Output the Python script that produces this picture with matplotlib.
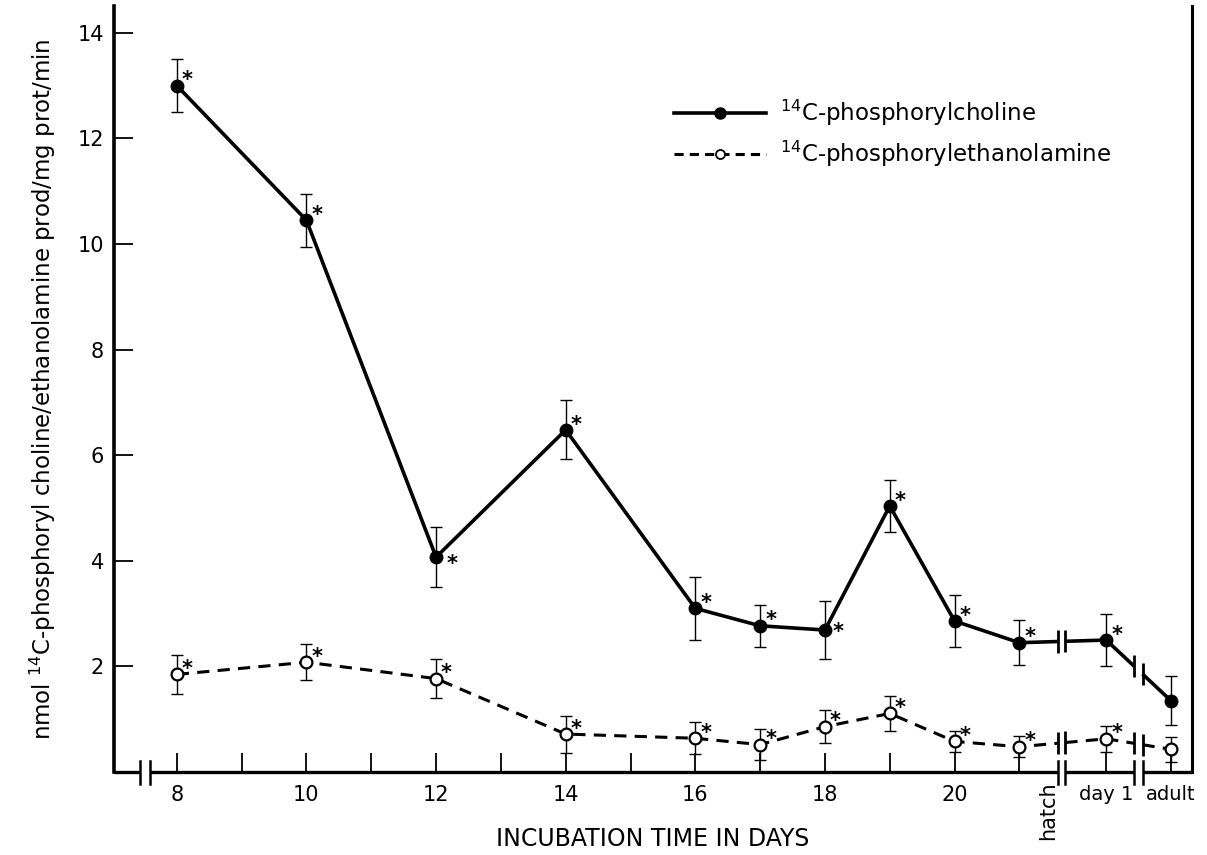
import numpy as np
import matplotlib
matplotlib.use("Agg")
import matplotlib.pyplot as plt
from matplotlib.lines import Line2D

# values (nmol / mg prot / min)
days = [8, 10, 12, 14, 16, 17, 18, 19, 20, 21]
later_labels = ["day 1", "adult"]

choline = [13.0, 10.45, 4.07, 6.48, 3.1, 2.77, 2.69, 5.04, 2.86, 2.45, 2.5, 1.35]
choline_err = [0.5, 0.5, 0.57, 0.56, 0.6, 0.4, 0.55, 0.5, 0.5, 0.43, 0.5, 0.46]

ethanol = [1.85, 2.08, 1.77, 0.72, 0.64, 0.52, 0.86, 1.11, 0.58, 0.48, 0.63, 0.43]
ethanol_err = [0.37, 0.34, 0.37, 0.35, 0.3, 0.3, 0.31, 0.33, 0.2, 0.2, 0.25, 0.24]

ylabel = r"nmol $^{14}$C-phosphoryl choline/ethanolamine prod/mg prot/min"
xlabel = "INCUBATION TIME IN DAYS"

# layout on the broken time axis
day1_pos, adult_pos = 22.34, 23.34
axis_gap = (7.43, 7.58)
gaps = [(21.59, 21.71), (22.77, 22.90)]

narrow = ["Liberation Sans Narrow", "DejaVu Sans"]

x = np.array(days + [day1_pos, adult_pos], float)


def with_gaps(xv, yv, gaps):
    xv = np.asarray(xv, float)
    yv = np.asarray(yv, float)
    cuts = [g for pair in gaps for g in pair]
    xx = np.sort(np.r_[xv, cuts])
    yy = np.interp(xx, xv, yv)
    for a, b in gaps[::-1]:
        i = int(np.where(xx == b)[0][0])
        xx = np.insert(xx, i, np.nan)
        yy = np.insert(yy, i, np.nan)
    return xx, yy


def break_marks(ax, xv, yv, gaps, h=0.21, lw=2.0):
    for a, b in gaps:
        for g in (a, b):
            yg = np.interp(g, xv, yv)
            ax.plot([g, g], [yg - h, yg + h], color="black", lw=lw,
                    solid_capstyle="butt", zorder=4)


fig = plt.figure(figsize=(12.07, 8.55), dpi=100)
ax = fig.add_axes([0.0944, 0.097, 0.893, 0.8955])
ax.set_xlim(7.03, 23.66)
ax.set_ylim(0, 14.5)

# choline: solid line, filled markers
cx, cy = with_gaps(x, choline, gaps)
ax.plot(cx, cy, color="black", lw=2.6, solid_capstyle="butt", zorder=3)
ax.errorbar(x, choline, yerr=choline_err, fmt="none", ecolor="black",
            elinewidth=1.0, capsize=4.3, capthick=1.0, zorder=2)
ax.plot(x, choline, "o", color="black", ms=9, zorder=5)
break_marks(ax, x, choline, gaps)

# ethanolamine: dashed line, open markers
ex, ey = with_gaps(x, ethanol, gaps)
ax.plot(ex, ey, color="black", lw=2.2, dashes=(4, 2.7), zorder=3)
ax.errorbar(x, ethanol, yerr=ethanol_err, fmt="none", ecolor="black",
            elinewidth=1.0, capsize=4.3, capthick=1.0, zorder=2)
ax.plot(x, ethanol, "o", mfc="white", mec="black", mew=1.6, ms=8.5, zorder=5)
break_marks(ax, x, ethanol, gaps)

# significance stars (none on adult)
shift = {12: (11.5, -9.5), 18: (9.5, -5.5)}
for i, d in enumerate(days + ["day 1"]):
    ax.annotate("*", (x[i], choline[i]), xytext=shift.get(d, (7.5, -0.5)),
                textcoords="offset points", ha="center", va="baseline",
                fontsize=15, fontweight="bold")
    ax.annotate("*", (x[i], ethanol[i]), xytext=(7.5, -0.5),
                textcoords="offset points", ha="center", va="baseline",
                fontsize=15, fontweight="bold")

# spines: bottom axis is drawn by hand so it can be broken
for s in ("top", "bottom"):
    ax.spines[s].set_visible(False)
ax.spines["left"].set_linewidth(2.6)
ax.spines["right"].set_linewidth(2.2)

xt = ax.get_xaxis_transform()
edges = [ax.get_xlim()[0], axis_gap[0], axis_gap[1], gaps[0][0], gaps[0][1],
         gaps[1][0], gaps[1][1], ax.get_xlim()[1]]
for a, b in zip(edges[::2], edges[1::2]):
    ax.plot([a, b], [0, 0], transform=xt, color="black", lw=2.4,
            solid_capstyle="butt", clip_on=False, zorder=6)
for g in [axis_gap[0], axis_gap[1]] + [v for p in gaps for v in p]:
    ax.plot([g, g], [-0.016, 0.014], transform=xt, color="black", lw=1.8,
            clip_on=False, zorder=6)

# ticks
xticks = list(range(8, 22)) + [day1_pos, adult_pos]
xlabels = [str(d) if d % 2 == 0 and d <= 20 else "" for d in range(8, 22)] + later_labels
ax.set_xticks(xticks)
ax.set_xticklabels(xlabels, fontsize=15, family=narrow)
for lab in ax.get_xticklabels()[-2:]:
    lab.set_fontsize(14)
ax.tick_params(axis="x", direction="in", length=14, width=1.3, pad=9)
ax.set_yticks([2, 4, 6, 8, 10, 12, 14])
ax.set_yticklabels(["2", "4", "6", "8", "10", "12", "14"], fontsize=15, family=narrow)
ax.tick_params(axis="y", direction="in", length=14, width=1.3, pad=7)

ax.text(21.45, -0.012, "hatch", transform=xt, rotation=90, ha="center", va="top",
        fontsize=15, family=narrow)

ax.set_xlabel(xlabel, fontsize=17, labelpad=16)
ax.set_ylabel(ylabel, fontsize=16.5, labelpad=14)

handles = [
    Line2D([], [], color="black", lw=2.6, marker="o", ms=8, markevery=[0, -1]),
    Line2D([], [], color="black", lw=2.2, dashes=(3, 2), marker="o", mfc="white",
           mew=1.3, ms=6.5, markevery=[0, -1]),
]
leg = ax.legend(handles, [r"$^{14}$C-phosphorylcholine", r"$^{14}$C-phosphorylethanolamine"],
                loc="upper left", bbox_to_anchor=(0.52, 0.88), frameon=False,
                fontsize=16.5, handlelength=4.0, labelspacing=0.45, handletextpad=0.6,
                borderaxespad=0, borderpad=0)

fig.savefig("out.png", dpi=100)
